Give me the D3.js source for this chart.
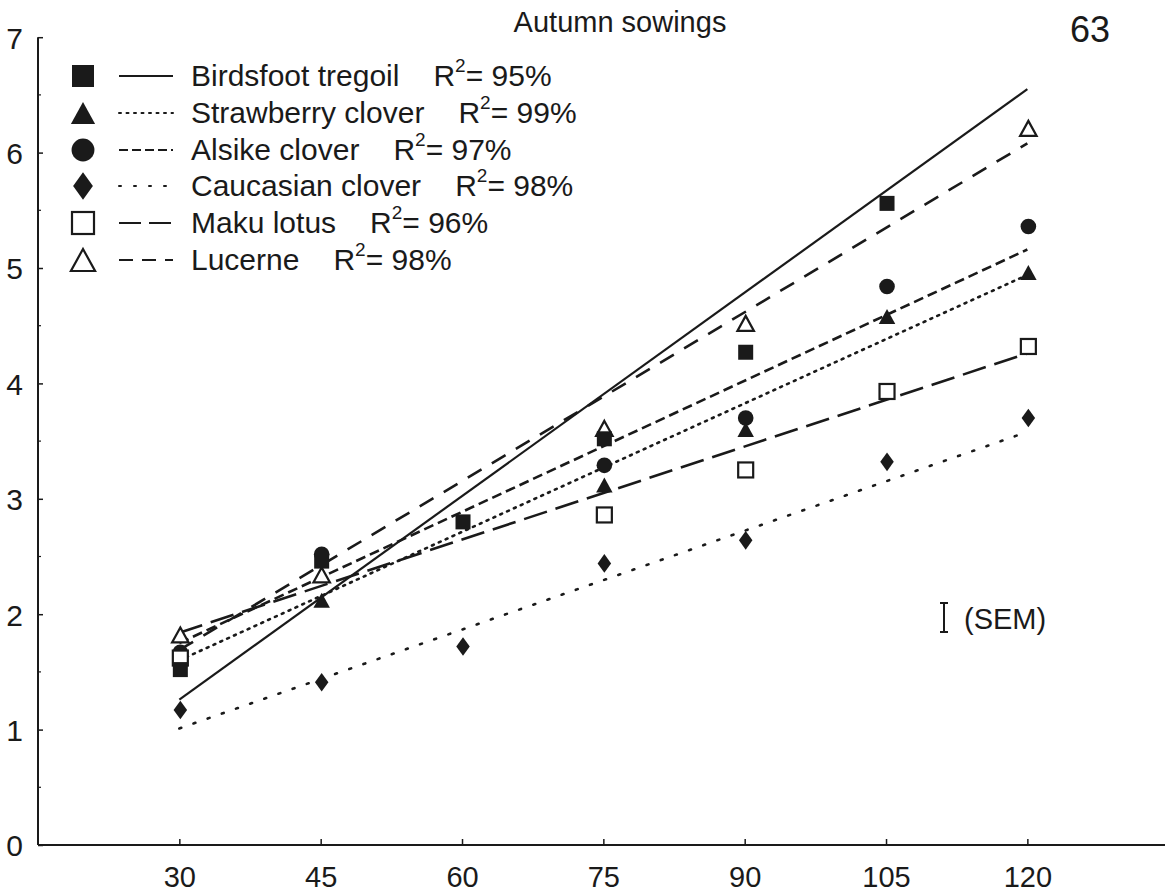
<!DOCTYPE html>
<html>
<head>
<meta charset="utf-8">
<script src="https://cdn.jsdelivr.net/npm/d3@7"></script>
<style>
  html, body { margin: 0; padding: 0; background: #fff; }
  svg { display: block; }
  text { font-family: "Liberation Sans", Arial, Helvetica, sans-serif; fill: #1a1a1a; }
</style>
</head>
<body>
<svg id="chart" width="1165" height="895"></svg>
<script>
// ---------- DATA ----------
const days = [30, 45, 60, 75, 90, 105, 120];
const xTickLabels = ["30", "45", "60", "75", "90", "105", "120"];
const yTickLabels = [0, 1, 2, 3, 4, 5, 6, 7];

const seriesNames = ["Birdsfoot tregoil", "Strawberry clover", "Alsike clover", "Caucasian clover", "Maku lotus", "Lucerne"];
const rSquared = ["95%", "99%", "97%", "98%", "96%", "98%"];

const birdsfoot  = [1.52, 2.46, 2.80, 3.52, 4.27, 5.56, null];
const strawberry = [null, 2.12, null, 3.12, 3.60, 4.58, 4.96];
const alsike     = [1.67, 2.52, null, 3.29, 3.70, 4.84, 5.36];
const caucasian  = [1.17, 1.41, 1.72, 2.44, 2.64, 3.32, 3.70];
const maku       = [1.62, null, null, 2.86, 3.25, 3.93, 4.32];
const lucerne    = [1.82, 2.34, null, 3.61, 4.52, null, 6.21];

// fitted regression line values at day 30 and day 120
const fitDays  = [30, 120];
const fitBirdsfoot  = [1.26, 6.55];
const fitStrawberry = [1.60, 4.94];
const fitAlsike     = [1.75, 5.16];
const fitCaucasian  = [1.01, 3.58];
const fitMaku       = [1.84, 4.26];
const fitLucerne    = [1.69, 6.08];

const title = "Autumn sowings";
const pageNumber = "63";
const semLabel = "(SEM)";

// ---------- STYLE ----------
const styles = [
  { marker: "square",   filled: true,  dash: null,     cap: "butt",  lgDash: null },
  { marker: "triangle", filled: true,  dash: "2,5.5",  cap: "round", lgDash: "2,5.5" },
  { marker: "circle",   filled: true,  dash: "10,5",   cap: "butt",  lgDash: "9,4" },
  { marker: "diamond",  filled: true,  dash: "2,13",   cap: "round", lgDash: "2,13" },
  { marker: "square",   filled: false, dash: "24,9",   cap: "butt",  lgDash: "22,8" },
  { marker: "triangle", filled: false, dash: "16,12",  cap: "butt",  lgDash: "14,9" }
];
const values = [birdsfoot, strawberry, alsike, caucasian, maku, lucerne];
const fits = [fitBirdsfoot, fitStrawberry, fitAlsike, fitCaucasian, fitMaku, fitLucerne];

const ink = "#1a1a1a";
const svg = d3.select("#chart");

const x = d3.scaleLinear().domain([15, 135]).range([38, 1168.7]);
const y = d3.scaleLinear().domain([0, 7]).range([845, 37.2]);

// ---------- AXES ----------
const xAxis = d3.axisBottom(x).tickValues(days).tickSize(-6).tickFormat((d, i) => xTickLabels[i]);
const gx = svg.append("g").attr("transform", `translate(0,${y(0)})`).call(xAxis);
gx.select(".domain").attr("d", `M${x(15)},0H1165`).attr("stroke", ink).attr("stroke-width", 2.2);
gx.selectAll(".tick line").attr("stroke", ink).attr("stroke-width", 1.5);
gx.selectAll(".tick text").attr("y", 42).attr("dy", 0).attr("font-size", 29)
  .attr("font-family", '"Liberation Sans", Arial, sans-serif').attr("fill", ink);

const yAxis = d3.axisLeft(y).tickValues(yTickLabels).tickSize(-5).tickFormat(d3.format("d"));
const gy = svg.append("g").attr("transform", `translate(${x(15)},0)`).call(yAxis);
gy.select(".domain").attr("d", `M0,${y(0)}V${y(7)}`).attr("stroke", ink).attr("stroke-width", 2);
gy.selectAll(".tick line").attr("stroke", ink).attr("stroke-width", 1.5);
gy.selectAll(".tick text").attr("x", -15).attr("dy", "0.36em").attr("font-size", 30)
  .attr("font-family", '"Liberation Sans", Arial, sans-serif').attr("fill", ink);
// minor half-unit ticks
gy.selectAll(".minor").data(d3.range(0.5, 7, 1)).join("line")
  .attr("x1", 0).attr("x2", 3).attr("y1", d => y(d)).attr("y2", d => y(d))
  .attr("stroke", ink).attr("stroke-width", 1.2);

// ---------- REGRESSION LINES ----------
const lineGen = d3.line().x((d, i) => x(fitDays[i])).y(d => y(d));
fits.forEach((f, k) => {
  svg.append("path").attr("d", lineGen(f))
    .attr("fill", "none").attr("stroke", ink).attr("stroke-width", k === 0 ? 2.2 : 2.6)
    .attr("stroke-linecap", styles[k].cap)
    .attr("stroke-dasharray", styles[k].dash);
});

// ---------- MARKERS ----------
function marker(g, type, filled, cx, cy, s) {
  const fill = filled ? ink : "#fff";
  const sw = filled ? 0 : 2.2;
  if (type === "square") {
    const h = s * 0.5;
    g.append("rect").attr("x", cx - h).attr("y", cy - h).attr("width", 2 * h).attr("height", 2 * h)
      .attr("fill", fill).attr("stroke", ink).attr("stroke-width", sw);
  } else if (type === "circle") {
    g.append("circle").attr("cx", cx).attr("cy", cy).attr("r", s * 0.52).attr("fill", fill);
  } else if (type === "triangle") {
    const w = s * 0.55, hh = s * 0.5;
    g.append("path").attr("d", `M${cx},${cy - hh}L${cx + w},${cy + hh}L${cx - w},${cy + hh}Z`)
      .attr("fill", fill).attr("stroke", ink).attr("stroke-width", sw).attr("stroke-linejoin", "miter");
  } else if (type === "diamond") {
    const w = s * 0.45, hh = s * 0.62;
    g.append("path").attr("d", `M${cx},${cy - hh}L${cx + w},${cy}L${cx},${cy + hh}L${cx - w},${cy}Z`)
      .attr("fill", fill);
  }
}

const gm = svg.append("g");
const drawOrder = [5, 2, 4, 0, 1, 3];
drawOrder.forEach(k => {
  values[k].forEach((v, i) => {
    if (v == null) return;
    marker(gm, styles[k].marker, styles[k].filled, x(days[i]) + 1, y(v), 15);
  });
});

// ---------- LEGEND ----------
const lg = svg.append("g");
const rowY = [76, 113, 150, 186, 223, 260];
seriesNames.forEach((name, k) => {
  const cy = rowY[k];
  marker(lg, styles[k].marker, styles[k].filled, 83, cy, 22);
  lg.append("line").attr("x1", 119).attr("x2", 173).attr("y1", cy).attr("y2", cy)
    .attr("stroke", ink).attr("stroke-width", 2)
    .attr("stroke-linecap", styles[k].cap)
    .attr("stroke-dasharray", styles[k].lgDash);
  const t = lg.append("text").attr("x", 191).attr("y", cy + 10).attr("font-size", 30).text(name);
  const w = t.node().getComputedTextLength();
  const r = lg.append("text").attr("x", 191 + w + 34).attr("y", cy + 10).attr("font-size", 30);
  r.append("tspan").text("R");
  r.append("tspan").attr("font-size", 19).attr("dy", -14).text("2");
  r.append("tspan").attr("dy", 14).text("= " + rSquared[k]);
});

// ---------- TITLE / PAGE / SEM ----------
svg.append("text").attr("x", 620).attr("y", 32).attr("text-anchor", "middle").attr("font-size", 29).text(title);
svg.append("text").attr("x", 1090).attr("y", 42).attr("text-anchor", "middle").attr("font-size", 36).text(pageNumber);

const semG = svg.append("g");
semG.append("path").attr("d", "M940,603H948M944,603V632M940,632H948")
  .attr("stroke", ink).attr("stroke-width", 2).attr("fill", "none");
semG.append("text").attr("x", 964).attr("y", 629).attr("font-size", 29).text(semLabel);
</script>
</body>
</html>
